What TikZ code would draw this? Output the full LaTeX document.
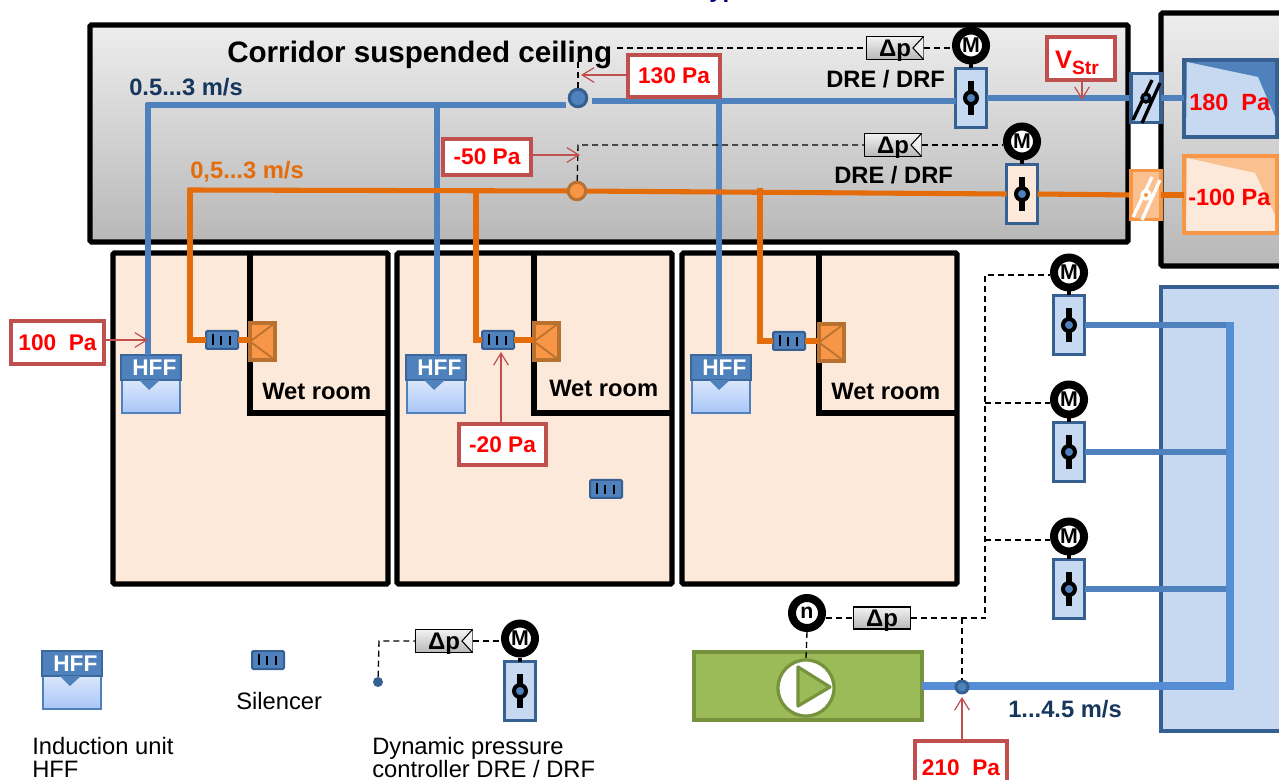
\documentclass[tikz,border=0pt]{standalone}
\usepackage{fontspec}
\setmainfont{Liberation Sans}
\usetikzlibrary{arrows.meta}
\definecolor{ductblue}{HTML}{4F81BD}
\definecolor{darkblue}{HTML}{366092}
\definecolor{paleblue}{HTML}{C6D9F1}
\definecolor{riserblue}{HTML}{558ED5}
\definecolor{hfftop}{HTML}{DCE8FB}
\definecolor{hffbottom}{HTML}{A9C6F8}
\definecolor{ductorange}{HTML}{E46C0A}
\definecolor{midorange}{HTML}{F79646}
\definecolor{darkorange}{HTML}{B9712F}
\definecolor{lightorange}{HTML}{FAC090}
\definecolor{paleorange}{HTML}{FDE9D9}
\definecolor{tagred}{HTML}{C0504D}
\definecolor{navytext}{HTML}{17365D}
\definecolor{fangreen}{HTML}{9BBB59}
\definecolor{darkgreen}{HTML}{76923C}
\tikzset{
    sized/.style 2 args={minimum width=#1*0.75pt,minimum height=#2*0.75pt,inner sep=0pt,outer sep=0pt},
    wallbox/.style={draw=black,line width=3.8pt,rounded corners=1pt},
    greybox/.style={wallbox,top color=black!7,bottom color=black!28},
    room/.style={wallbox,fill=paleorange},
    bluepipe/.style={draw=ductblue,line width=4.5pt},
    branchpipe/.style={draw=ductblue,line width=3.8pt},
    riserpipe/.style={draw=riserblue,line width=5.5pt},
    orangepipe/.style={draw=ductorange,line width=3.8pt},
    dashline/.style={black,line width=1pt,dash pattern=on 4.5pt off 3pt},
    tag/.style={draw=tagred,fill=white,line width=2.5pt,font=\fontsize{17}{17}\bfseries\selectfont,text=red,text depth=0pt},
    tagarrow/.style={draw=tagred,line width=0.9pt,-{Straight Barb[length=9pt,width=11pt]}},
    motor/.style={circle,draw=black,fill=white,line width=6pt,minimum size=22.5pt,inner sep=0pt,font=\fontsize{16}{16}\bfseries\selectfont},
    ctrlbox/.style={sized={31}{59},draw=darkblue,line width=2.4pt},
    dpbox/.style={sized={57}{23},draw=black,line width=1.2pt,top color=black!5,bottom color=black!28,font=\fontsize{18}{18}\bfseries\selectfont,text depth=0pt},
    silbox/.style={sized={32}{18},draw=darkblue,fill=ductblue,line width=1.5pt,rounded corners=1pt},
    wetvalve/.style={sized={25}{37},draw=darkorange,fill=midorange,line width=2.4pt},
    sensor/.style={circle,inner sep=0pt,line width=2.2pt},
    boldtext/.style={font=\fontsize{17.8}{18}\bfseries\selectfont,inner sep=0pt,anchor=base west},
    plaintext/.style={font=\fontsize{17.8}{18}\selectfont,inner sep=0pt,anchor=base west},
}
\newcommand{\controller}[4]{
        \node[ctrlbox,fill=#4] (#1) at (#2,#3) {};
        \node[motor] (#1m) at (#2,#3-52.5) {M};
        \draw[line width=3pt] (#1m.south) -- (#1.north);
        \draw[line width=4.5pt] (#2,#3-17) -- (#2,#3+17);
        \node[circle,draw=black,fill=ductblue,line width=3pt,minimum size=9pt,inner sep=0pt] (#1c) at (#2,#3) {};
}
\newcommand{\silencer}[3]{
        \node[silbox] (#1) at (#2,#3) {};
        \draw[line width=1.2pt] (#2-9,#3-6) -- (#2-9,#3+5);
        \draw[line width=1.2pt] (#2-1,#3-4) -- (#2-1,#3+5);
        \draw[line width=1.2pt] (#2+8,#3-4) -- (#2+8,#3+5);
}
\newcommand{\hffunit}[3]{
        \node[sized={58}{34},anchor=north,draw=ductblue,line width=1.2pt,top color=hfftop,bottom color=hffbottom] (#1b) at (#2,#3+24) {};
        \node[sized={60}{25},anchor=north,draw=darkblue!80!ductblue,fill=ductblue,line width=1.5pt,text=white,text depth=0pt,font=\fontsize{17}{17}\bfseries\selectfont] (#1) at (#2,#3) {\hspace*{5pt}HFF};
        \fill[ductblue] (#2-12,#3+25) -- (#2-2,#3+35) -- (#2+9,#3+25) -- cycle;
}
\newcommand{\dpsensor}[3]{
        \node[dpbox] (#1) at (#2,#3) {Δp};
        \draw[line width=0.8pt,fill=white,fill opacity=0.6] (#1.north east) -- (#2+18,#3) -- (#1.south east);
}
\begin{document}
\begin{tikzpicture}[x=0.75pt,y=-0.75pt]
        \useasboundingbox (0,0) rectangle (1279,780);
        \node[boldtext,font=\fontsize{18}{18}\bfseries\selectfont,text=blue!50!black] (titlerest) at (709,-2) {yp};
        \node[greybox,sized={150}{253},anchor=north west] (plantroom) at (1161,13) {};
        \node[greybox,sized={1038}{217},anchor=north west] (ceiling) at (90,25) {};
        \node[sized={140}{444},anchor=north west,draw=darkblue,fill=paleblue,line width=2.4pt] (plenum) at (1161,287) {};
        \node[boldtext,font=\fontsize{22.2}{23}\bfseries\selectfont] (ceilingtext) at (227,63) {Corridor suspended ceiling};

        \foreach \name/\x/\hx/\riser/\drop/\silx/\sily/\wetx/\wety in {a/113/151/148/190/222/340/262/400,b/397/436/437/476/498/340/549/397,c/682/721/719/760/789/341/831/400} {
            \node[room,sized={275}{331},anchor=north west] (room\name) at (\x,253) {};
            \draw[line width=3.8pt] (\x+137,253) |- (\x+275,413);
            \node[boldtext] (wettext\name) at (\wetx,\wety) {Wet room};
            \silencer{sil\name}{\silx}{\sily}
            \node[wetvalve,anchor=west] (wet\name) at (\x+137,\sily+1.5) {};
            \draw[darkorange,line width=1.3pt] (wet\name.north east) -- (wet\name.west) -- (wet\name.south east);
            \coordinate (top\name) at (\drop,188);
            \coordinate (low\name) at (\drop,\sily);
            \draw[orangepipe] (top\name) -- (low\name) -- (sil\name.west);
            \draw[orangepipe] (sil\name.east) -- (wet\name.west |- sil\name.east);
            \coordinate (riser\name) at (\riser,103);
            \hffunit{hff\name}{\hx}{355}
            \draw[branchpipe] (riser\name) -- (\riser,355);
        }
        \silencer{silfree}{606}{489}

        \node[sensor,draw=darkblue,fill=ductblue,minimum size=13pt] (sensblue) at (578,98) {};
        \node[sensor,draw=darkorange,fill=midorange,minimum size=13pt] (sensorange) at (577,191) {};
        \controller{ctrla}{971}{98}{paleblue}
        \controller{ctrlb}{1022}{194}{paleorange}
        \controller{ctrlc}{1069}{325}{paleblue}
        \controller{ctrld}{1069}{452}{paleblue}
        \controller{ctrle}{1069}{589}{paleblue}
        \controller{ctrll}{520}{691}{paleblue}

        \coordinate (blueleft) at (146,105);
        \coordinate (blueend) at (566,105);
        \coordinate (bluestart) at (592,101);
        \draw[bluepipe] (blueleft) -- (blueend);
        \draw[bluepipe] (bluestart) -- (ctrla.west |- bluestart);
        \draw[branchpipe] (ctrla.east) -- (1131,98);
        \coordinate (orangeleft) at (188,190);
        \draw[orangepipe] (orangeleft) -- (sensorange) -- (ctrlb.west);
        \draw[orangepipe] (ctrlb.east) -- (1131,195);
        \node[sensor,draw=darkblue,fill=ductblue,minimum size=13pt] at (sensblue) {};
        \node[sensor,draw=darkorange,fill=midorange,minimum size=13pt] at (sensorange) {};

        \node[sized={30}{49},draw=darkblue,fill=paleblue,line width=2.4pt] (flapblue) at (1146,98) {};
        \draw[line width=2.5pt] (1133,120) -- (1152,80);
        \draw[line width=2.5pt] (1142,123) -- (1160,83);
        \node[circle,draw=black,fill=ductblue,line width=2.5pt,minimum size=6pt,inner sep=0pt] (flapbluec) at (flapblue) {};
        \node[sized={30}{49},draw=midorange,fill=lightorange,line width=2.4pt] (flaporange) at (1146,195) {};
        \draw[white,line width=2.5pt] (1133,217) -- (1152,177);
        \draw[white,line width=2.5pt] (1142,220) -- (1160,180);
        \node[circle,draw=white,fill=midorange,line width=2.5pt,minimum size=6pt,inner sep=0pt] (flaporangec) at (flaporange) {};

        \node[sized={93}{77},anchor=north west,draw=darkblue,fill=ductblue,line width=2.4pt] (tankblue) at (1184,60) {};
        \fill[paleblue] (1187,62) -- (1258,77) -- (1275,117) -- (1275,135) -- (1186,135) -- cycle;
        \node[sized={93}{77},anchor=north west,draw=midorange,fill=lightorange,line width=2.4pt] (tankorange) at (1184,156) {};
        \fill[paleorange] (1187,158) -- (1255,173) -- (1275,215) -- (1275,231) -- (1186,231) -- cycle;
        \draw[branchpipe] (flapblue.east) -- (tankblue.west |- flapblue.east);
        \draw[orangepipe] (flaporange.east) -- (tankorange.west |- flaporange.east);
        \node[font=\fontsize{17.6}{18}\bfseries\selectfont,text=red,anchor=base west,inner sep=0pt] (tankbluetext) at (1189,111) {180\ \ Pa};
        \node[font=\fontsize{17.6}{18}\bfseries\selectfont,text=red,anchor=base west,inner sep=0pt] (tankorangetext) at (1188,206) {-100 Pa};

        \dpsensor{dpa}{895}{48}
        \dpsensor{dpb}{893}{145}
        \dpsensor{dpl}{444}{641}
        \coordinate (dashbreak) at (578,62);
        \coordinate (dashtop) at (617,48);
        \draw[dashline] (sensblue) -- (dashbreak);
        \draw[dashline] (dashtop) -- (dpa.west);
        \draw[dashline] (dpa.east) -- (ctrlam.west |- dpa.east);
        \coordinate (dashlow) at (578,145);
        \draw[dashline] (sensorange) -- (dashlow) -- (dpb.west |- dashlow);
        \draw[dashline] (dpb.east) -- (ctrlbm.west |- dpb.east);
        \node[circle,fill=darkblue,inner sep=0pt,minimum size=7.5pt] (legenddot) at (378,682) {};
        \coordinate (legendcorner) at (379,641);
        \draw[dashline] (legenddot) -- (legendcorner) -- (dpl.west);
        \draw[dashline] (dpl.east) -- (ctrllm.west |- dpl.east);

        \node[tag,sized={92}{42},anchor=north west] (tagb) at (628,55) {130 Pa};
        \node[tag,sized={88}{36},anchor=north west] (tagc) at (443,139) {-50 Pa};
        \node[tag,sized={68}{43},anchor=north west] (tagv) at (1047,37) {\raisebox{-2pt}{\fontsize{19}{19}\selectfont V\raisebox{-0.25em}{\fontsize{14.4}{15}\selectfont Str}}\hspace*{6pt}};
        \node[tag,sized={93}{43},anchor=north west] (taga) at (11,321) {100\ \ Pa};
        \node[tag,sized={87}{41},anchor=north west] (tagd) at (459,424) {-20 Pa};
        \node[tag,sized={92}{54},anchor=north west] (tage) at (915,741) {210\ \ Pa};
        \coordinate (tipb) at (581,75);
        \coordinate (tipc) at (580,155);
        \coordinate (tipv) at (1082,100);
        \coordinate (tipa) at (148,340);
        \coordinate (tipd) at (501,352);
        \draw[tagarrow] (tagb.west |- tipb) -- (tipb);
        \draw[tagarrow] (tagc.east |- tipc) -- (tipc);
        \draw[tagarrow] (tagv.south -| tipv) -- (tipv);
        \draw[tagarrow] (taga.east |- tipa) -- (tipa);
        \draw[tagarrow] (tagd.north -| tipd) -- (tipd);

        \node[boldtext,text=navytext] (speedblue) at (129,96) {0.5...3 m/s};
        \node[boldtext,text=ductorange] (speedorange) at (190,179) {0,5...3 m/s};
        \node[boldtext] (namea) at (826,88) {DRE / DRF};
        \node[boldtext] (nameb) at (834,184) {DRE / DRF};

        \node[sized={228}{68},anchor=north west,draw=darkgreen,fill=fangreen,line width=2.4pt] (fan) at (694,652) {};
        \node[circle,draw=darkgreen,fill=white,line width=2.4pt,minimum size=42pt,inner sep=0pt] (fanwheel) at (806,688) {};
        \draw[darkgreen,fill=fangreen,line width=2.4pt,line join=round] (798,667) -- (830,687) -- (798,706) -- cycle;
        \node[motor] (fanm) at (807,613) {n};
        \node[sized={57}{22},draw=black,line width=1.2pt,top color=black!5,bottom color=black!28,font=\fontsize{18}{18}\bfseries\selectfont,text depth=0pt] (dpf) at (882,618) {Δp};
        \draw[dashline] (fanm.east |- dpf.west) -- (dpf.west);
        \draw[dashline] (fanm.south) -- (fanwheel.north);

        \coordinate (riserfoot) at (1230,686);
        \coordinate (risertop) at (1230,322);
        \draw[branchpipe] (ctrlc.east) -- (risertop |- ctrlc.east);
        \draw[branchpipe] (ctrld.east) -- (risertop |- ctrld.east);
        \draw[branchpipe] (ctrle.east) -- (risertop |- ctrle.east);
        \draw[riserpipe] (fan.east |- riserfoot) -- (riserfoot) -- (risertop);
        \node[sensor,draw=darkblue,fill=ductblue,minimum size=9pt] (sensfan) at (962,687) {};
        \coordinate (dashfan) at (962,618);
        \coordinate (dashup) at (985,618);
        \coordinate (dashhigh) at (985,275);
        \coordinate (dashmid) at (985,403);
        \coordinate (dashend) at (985,540);
        \draw[dashline] (dpf.east) -- (dashup) -- (dashhigh) -- (ctrlcm.west |- dashhigh);
        \draw[dashline] (dashmid) -- (ctrldm.west |- dashmid);
        \draw[dashline] (dashend) -- (ctrlem.west |- dashend);
        \draw[dashline] (dashfan) -- (sensfan);
        \coordinate (tipe) at (962,697);
        \draw[tagarrow] (tage.north -| tipe) -- (tipe);
        \node[boldtext,text=navytext] (speedfan) at (1008,717) {1...4.5 m/s};

        \hffunit{hffl}{72}{651}
        \silencer{sill}{268}{660}
        \node[plaintext] (silencertext) at (236,709) {Silencer};
        \node[plaintext] (hfftexta) at (32,754) {Induction unit};
        \node[plaintext] (hfftextb) at (32,777) {HFF};
        \node[plaintext] (dretexta) at (372,754) {Dynamic pressure};
        \node[plaintext] (dretextb) at (372,777) {controller DRE / DRF};
\end{tikzpicture}
\end{document}
